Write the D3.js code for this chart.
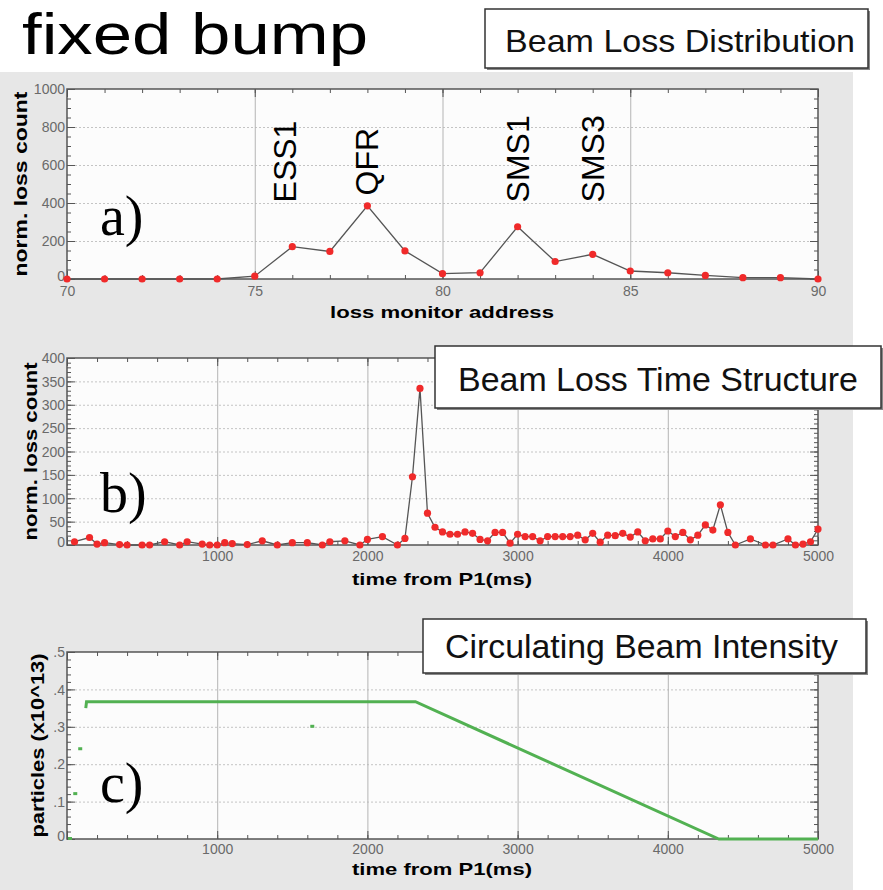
<!DOCTYPE html>
<html>
<head>
<meta charset="utf-8">
<script src="https://cdn.jsdelivr.net/npm/d3@7"></script>
<style>
  body { margin: 0; background: #fff; }
  svg { display: block; }
  .tick text { font-family: "Liberation Sans", Arial, sans-serif; font-size: 14px; fill: #6a6a6a; }
</style>
</head>
<body>
<div id="chart"></div>
<script>
// a) beam loss distribution
const addresses = [70, 71, 72, 73, 74, 75, 76, 77, 78, 79, 80, 81, 82, 83, 84, 85, 86, 87, 88, 89, 90];
const lossCounts = [0, 0, 0, 0, 0, 15, 170, 145, 385, 148, 28, 33, 275, 92, 130, 42, 33, 19, 7, 7, 0];
const markerNames = ['ESS1', 'QFR', 'SMS1', 'SMS3'];
const markerAddress = [75.8, 78, 82, 84];
const markerBase = [403, 440, 403, 403];

// b) beam loss time structure
const timesB = [50, 150, 200, 250, 350, 400, 500, 550, 650, 750, 800, 900, 950, 1000, 1050, 1100, 1200,
  1300, 1400, 1500, 1600, 1700, 1750, 1850, 1950, 2000, 2100, 2200, 2250, 2300, 2350, 2400, 2450, 2500,
  2550, 2600, 2650, 2700, 2750, 2800, 2850, 2900, 2950, 3000, 3050, 3100, 3150, 3200, 3250, 3300, 3350,
  3400, 3450, 3500, 3550, 3600, 3650, 3700, 3750, 3800, 3850, 3900, 3950, 4000, 4050, 4100, 4150, 4200,
  4250, 4300, 4350, 4400, 4450, 4550, 4650, 4700, 4800, 4850, 4900, 4950, 5000];
const lossB = [7, 16, 2, 5, 1, 0, 0, 0, 7, 0, 7, 2, 0, 0, 5, 3, 1,
  9, 0, 5, 5, 0, 7, 9, 0, 12, 18, 0, 14, 146, 335, 68, 38, 28,
  23, 23, 28, 25, 12, 9, 27, 27, 4, 23, 18, 18, 9, 18, 18, 18, 18,
  21, 11, 25, 6, 21, 20, 25, 17, 28, 9, 13, 13, 30, 18, 27, 11, 21,
  43, 32, 86, 27, 0, 13, 0, 0, 13, 0, 2, 7, 34];

// c) circulating beam intensity (x10^13)
const timesC = [125, 130, 2320, 4340, 5000];
const intensity = [0.35, 0.367, 0.367, 0, 0];
const strayT = [20, 55, 88, 1633];
const strayI = [0, 0.12, 0.24, 0.30];

const width = 883, height = 890;
const left = 67, right = 818;
const font = '"Liberation Sans", Arial, sans-serif';

const svg = d3.select('#chart').append('svg')
  .attr('width', width)
  .attr('height', height);

svg.append('rect').attr('x', 0).attr('y', 72).attr('width', 853).attr('height', height - 72).attr('fill', '#e7e7e7');

const panel = (cfg) => {
  const innerWidth = right - left;
  const innerHeight = cfg.bottom - cfg.top;
  const x = d3.scaleLinear().domain(cfg.xDomain).range([0, innerWidth]);
  const y = d3.scaleLinear().domain(cfg.yDomain).range([innerHeight, 0]);

  const g = svg.append('g').attr('transform', `translate(${left},${cfg.top})`);
  g.append('rect').attr('width', innerWidth).attr('height', innerHeight).attr('fill', '#fcfcfc');

  // grid
  const yGrid = g.append('g').call(d3.axisLeft(y).tickValues(cfg.yMajor.slice(1, -1)).tickSize(-innerWidth).tickFormat(''));
  yGrid.select('.domain').remove();
  yGrid.selectAll('line').attr('stroke', '#c4c4c4').attr('stroke-dasharray', '2,2');
  const xGrid = g.append('g').call(d3.axisBottom(x).tickValues(cfg.xGrid).tickSize(innerHeight).tickFormat(''));
  xGrid.select('.domain').remove();
  xGrid.selectAll('line').attr('stroke', '#b4b4b4');

  // ticks on all four sides
  const tickAxes = [
    [d3.axisBottom(x).tickValues(cfg.xMinor).tickSize(-4).tickFormat(''), innerHeight, 0],
    [d3.axisTop(x).tickValues(cfg.xMinor).tickSize(-4).tickFormat(''), 0, 0],
    [d3.axisTop(x).tickValues(cfg.xMajor).tickSize(-8).tickFormat(''), 0, 0],
    [d3.axisLeft(y).tickValues(cfg.yMinor).tickSize(-4).tickFormat(''), 0, 0],
    [d3.axisRight(y).tickValues(cfg.yMinor).tickSize(-4).tickFormat(''), 0, innerWidth],
    [d3.axisRight(y).tickValues(cfg.yMajor).tickSize(-8).tickFormat(''), 0, innerWidth]
  ];
  tickAxes.forEach(([axis, ty, tx]) => {
    const a = g.append('g').attr('transform', `translate(${tx},${ty})`).call(axis);
    a.select('.domain').remove();
    a.selectAll('line').attr('stroke', '#555');
  });

  const xAxisG = g.append('g').attr('transform', `translate(0,${innerHeight})`)
    .call(d3.axisBottom(x).tickValues(cfg.xMajor).tickSize(-8).tickPadding(cfg.xPad).tickFormat(d3.format('d')));
  xAxisG.select('.domain').remove();
  xAxisG.selectAll('line').attr('stroke', '#555');
  const yAxisG = g.append('g')
    .call(d3.axisLeft(y).tickValues(cfg.yMajor).tickSize(-8).tickPadding(2).tickFormat(cfg.yFormat));
  yAxisG.select('.domain').remove();
  yAxisG.selectAll('line').attr('stroke', '#555');
  yAxisG.selectAll('text').attr('dy', d => d === cfg.yDomain[0] ? '0.1em' : '0.34em');
  if (cfg.xSkipFirst) xAxisG.selectAll('.tick text').filter(d => d === cfg.xDomain[0]).remove();

  g.append('rect').attr('width', innerWidth).attr('height', innerHeight)
    .attr('fill', 'none').attr('stroke', '#555').attr('stroke-width', 1.5);

  // axis titles
  g.append('text')
    .attr('x', 442 - left)
    .attr('y', innerHeight + cfg.xTitleDy)
    .attr('text-anchor', 'middle')
    .attr('font-family', font).attr('font-weight', 'bold').attr('font-size', 17)
    .attr('textLength', cfg.xTitleLen).attr('lengthAdjust', 'spacingAndGlyphs')
    .text(cfg.xTitle);
  g.append('text')
    .attr('transform', `translate(${cfg.yTitleX - left},${innerHeight / 2}) rotate(-90)`)
    .attr('text-anchor', 'middle')
    .attr('font-family', font).attr('font-weight', 'bold').attr('font-size', 18)
    .attr('textLength', cfg.yTitleLen).attr('lengthAdjust', 'spacingAndGlyphs')
    .text(cfg.yTitle);

  // panel letter
  g.append('text')
    .attr('x', 100 - left).attr('y', cfg.letterY - cfg.top)
    .attr('font-family', '"Liberation Serif", "DejaVu Serif", serif').attr('font-size', 56)
    .text(cfg.letter);

  return { g, x, y };
};

const drawPoints = (p, xs, ys) => {
  const pts = xs.map((d, i) => [d, ys[i]]);
  p.g.append('path').datum(pts)
    .attr('fill', 'none').attr('stroke', '#555').attr('stroke-width', 1.3)
    .attr('d', d3.line().x(d => p.x(d[0])).y(d => p.y(d[1])));
  p.g.selectAll('circle.pt').data(pts).enter().append('circle')
    .attr('class', 'pt')
    .attr('cx', d => p.x(d[0])).attr('cy', d => p.y(d[1]))
    .attr('r', 3.6).attr('fill', '#f02a2a');
};

// ----- panel a
const pa = panel({
  top: 89, bottom: 279, xDomain: [70, 90], yDomain: [0, 1000],
  xMajor: [70, 75, 80, 85, 90], xMinor: d3.range(70, 91), xGrid: [75, 80, 85], xPad: 7,
  yMajor: d3.range(0, 1001, 200), yMinor: d3.range(0, 1001, 50), yFormat: d3.format('d'),
  xTitle: 'loss monitor address', xTitleDy: 39, xTitleLen: 224,
  yTitle: 'norm. loss count', yTitleX: 27, yTitleLen: 185,
  letter: 'a)', letterY: 235
});
drawPoints(pa, addresses, lossCounts);
markerNames.forEach((name, i) => {
  pa.g.append('text')
    .attr('transform', `translate(${pa.x(markerAddress[i]) + 11},${pa.y(markerBase[i])}) rotate(-90)`)
    .attr('font-family', font).attr('font-size', 32)
    .text(name);
});

// ----- panel b
const pb = panel({
  top: 358, bottom: 545, xDomain: [0, 5000], yDomain: [0, 400],
  xMajor: [0, 1000, 2000, 3000, 4000, 5000], xMinor: d3.range(0, 5001, 200), xGrid: [1000, 2000, 3000, 4000],
  xSkipFirst: true, xPad: 6,
  yMajor: d3.range(0, 401, 50), yMinor: d3.range(0, 401, 10), yFormat: d3.format('d'),
  xTitle: 'time from P1(ms)', xTitleDy: 40, xTitleLen: 180,
  yTitle: 'norm. loss count', yTitleX: 37, yTitleLen: 178,
  letter: 'b)', letterY: 512
});
drawPoints(pb, timesB, lossB);

// ----- panel c
const pc = panel({
  top: 652, bottom: 839, xDomain: [0, 5000], yDomain: [0, 0.5],
  xMajor: [0, 1000, 2000, 3000, 4000, 5000], xMinor: d3.range(0, 5001, 200), xGrid: [1000, 2000, 3000, 4000],
  xSkipFirst: true, xPad: 5,
  yMajor: d3.range(0, 6).map(d => d / 10), yMinor: d3.range(0, 26).map(d => d / 50),
  yFormat: d => d === 0 ? '0' : d3.format('.1f')(d).replace(/^0/, ''),
  xTitle: 'time from P1(ms)', xTitleDy: 36, xTitleLen: 180,
  yTitle: 'particles (x10^13)', yTitleX: 44, yTitleLen: 184,
  letter: 'c)', letterY: 802
});
pc.g.append('path').datum(timesC.map((d, i) => [d, intensity[i]]))
  .attr('fill', 'none').attr('stroke', '#52b152').attr('stroke-width', 3)
  .attr('d', d3.line().x(d => pc.x(d[0])).y(d => pc.y(d[1])));
pc.g.selectAll('rect.stray').data(strayT.map((d, i) => [d, strayI[i]])).enter().append('rect')
  .attr('class', 'stray')
  .attr('x', d => pc.x(d[0]) - 2).attr('y', d => pc.y(d[1]) - 2)
  .attr('width', 4).attr('height', 3).attr('fill', '#52b152');

// ----- titles
svg.append('text').attr('x', 22).attr('y', 54)
  .attr('font-family', font).attr('font-size', 58)
  .attr('textLength', 346).attr('lengthAdjust', 'spacingAndGlyphs')
  .text('fixed bump');

const boxes = [
  { label: 'Beam Loss Distribution', x: 485, y: 9, w: 383, h: 59, tx: 505, ty: 52, fs: 32, tl: 350 },
  { label: 'Beam Loss Time Structure', x: 435, y: 346, w: 446, h: 62, tx: 458, ty: 391, fs: 34, tl: 400 },
  { label: 'Circulating Beam Intensity', x: 423, y: 619, w: 443, h: 54, tx: 445, ty: 658, fs: 33, tl: 393 }
];
boxes.forEach(b => {
  svg.append('rect').attr('x', b.x + 2).attr('y', b.y + 2).attr('width', b.w).attr('height', b.h).attr('fill', '#888');
  svg.append('rect').attr('x', b.x).attr('y', b.y).attr('width', b.w).attr('height', b.h)
    .attr('fill', '#fff').attr('stroke', '#333').attr('stroke-width', 1.5);
  svg.append('text').attr('x', b.tx).attr('y', b.ty)
    .attr('font-family', font).attr('font-size', b.fs).attr('fill', '#111')
    .attr('textLength', b.tl).attr('lengthAdjust', 'spacingAndGlyphs')
    .text(b.label);
});
</script>
</body>
</html>
